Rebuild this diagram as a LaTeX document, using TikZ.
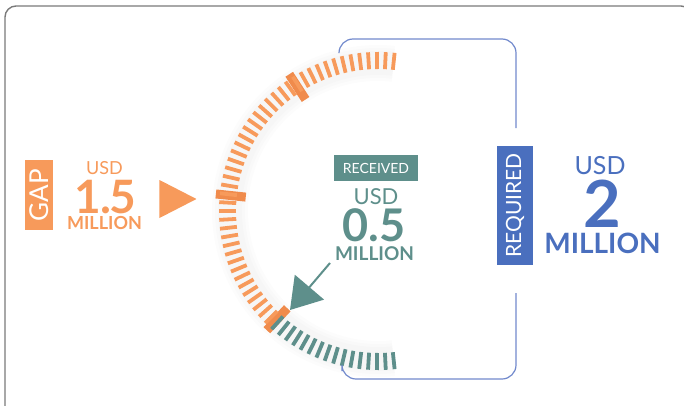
\documentclass[tikz,border=0pt]{standalone}
\usepackage{fontspec}
\setmainfont{Lato}
\usetikzlibrary{arrows.meta, shapes.geometric}
\definecolor{corange}{HTML}{F79A5B}
\definecolor{cdark}{HTML}{F08B4C}
\definecolor{cteal}{HTML}{5E8F8B}
\definecolor{cblue}{HTML}{4A6FBE}
\definecolor{cline}{HTML}{7189CC}
\definecolor{cgrey}{HTML}{7A7A7A}
\newcommand{\fsz}[1]{\fontsize{#1}{#1}\selectfont}
\tikzset{
  every picture/.style={x=1pt, y=1pt},
  labelbox/.style={fill=#1, text=white, inner sep=0pt, align=center},
  unit/.style={text=#1, inner sep=0pt, font=\fsz{20}},
  amount/.style={text=#1, inner sep=0pt, font=\bfseries\fsz{48}},
  million/.style={text=#1, inner sep=0pt, font=\bfseries\fsz{18}},
  dial/.style={line width=3.8pt},
}

\begin{document}
\begin{tikzpicture}
  \clip (0,0) rectangle (684,405);
  \draw[cgrey, line width=1.4pt, rounded corners=11pt] (5,-5) -- (5,399) -- (692,399) -- (692,-5);
  \coordinate (hub) at (378,194);
  \foreach \w in {36,30,24} \draw[black, opacity=0.012, line width=\w pt] ([shift={(84:148)}]hub) arc[start angle=84, end angle=276, radius=148];
  \foreach \a in {123,174,227} \draw[cdark, line width=9pt] ([shift={(\a:133)}]hub) -- ([shift={(\a:163)}]hub);
  \foreach \i in {0,...,60} {
    \pgfmathsetmacro\a{84+3.2*\i}
    \ifdim\a pt<227.5pt \def\c{corange}\else \def\c{cteal}\fi
    \draw[dial, \c] ([shift={(\a:142)}]hub) -- ([shift={(\a:159)}]hub);
  }
  \node[labelbox=corange, rotate=90, minimum width=70pt, minimum height=28pt, font=\fsz{26}] (gap) at (39,210) {GAP};
  \node[unit=corange, font=\fsz{18}] (gapusd) at (104.5,237) {USD};
  \node[amount=corange, font=\bfseries\fsz{46}] (gapnum) at (105.5,207.5) {1\kern-1.5pt.\kern-1.5pt5};
  \node[million=corange] (gapmil) at (104.5,182.5) {MILLION};
  \node[fill=corange, shape=isosceles triangle, isosceles triangle stretches, minimum width=38pt, minimum height=37pt, inner sep=0pt, anchor=apex] (pointer) at (197,206) {};
  \node[labelbox=cteal, minimum width=84pt, minimum height=26pt, font=\fsz{14}] (rec) at (376,237) {RECEIVED};
  \node[unit=cteal, font=\fsz{22}] (recusd) at (376,208) {USD};
  \node[amount=cteal, font=\bfseries\fsz{45}] (recnum) at (374,180) {0.5};
  \node[million=cteal, font=\bfseries\fsz{19}] (recmil) at (374.5,151.5) {MILLION};
  \coordinate (recfrom) at (330,142); \coordinate (recto) at (290,95);
  \draw[cteal, line width=2pt, -{Triangle[length=30pt, width=38pt]}] (recfrom) -- (recto);
  \node[labelbox=cblue, rotate=90, minimum width=119pt, minimum height=36pt, font=\fsz{21}] (req) at (515,199.5) {REQUIRED};
  \node[unit=cblue, font=\fsz{25}] (requsd) at (600,239) {USD};
  \node[amount=cblue, font=\bfseries\fsz{65}] (reqnum) at (602,201.5) {2};
  \node[million=cblue, font=\bfseries\fsz{28}] (reqmil) at (602.5,162) {MILLION};
  \coordinate (brtop) at (516,277); \coordinate (brbot) at (516,112);
  \draw[cline, line width=1.2pt, rounded corners=14pt] (339,353) -- (339,366) -- (516,366) -- (brtop);
  \draw[cline, line width=1.2pt, rounded corners=14pt] (brbot) -- (516,26) -- (342,26) -- (342,34);
\end{tikzpicture}
\end{document}
